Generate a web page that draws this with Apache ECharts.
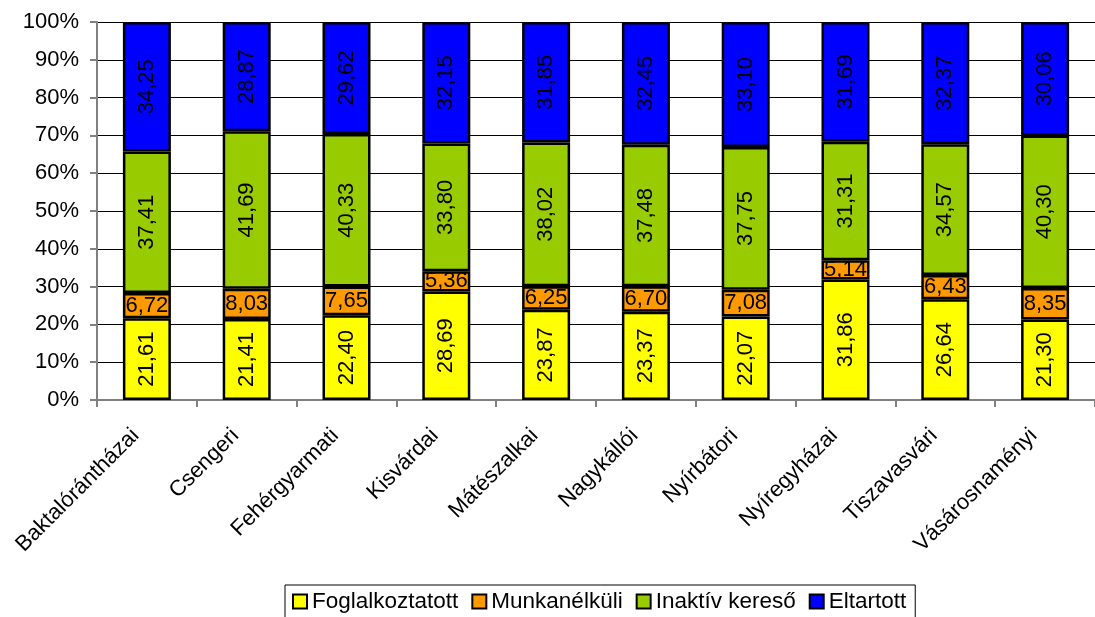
<!DOCTYPE html>
<html><head><meta charset="utf-8">
<script src="https://cdn.jsdelivr.net/npm/echarts@6/dist/echarts.min.js"></script>
<style>html,body{margin:0;padding:0;background:#fff}#c{width:1095px;height:617px}</style>
</head><body><div id="c"></div>
<script>
const categories = ['Baktalórántházai','Csengeri','Fehérgyarmati','Kisvárdai','Mátészalkai','Nagykállói','Nyírbátori','Nyíregyházai','Tiszavasvári','Vásárosnaményi'];
const foglalkoztatott = [21.61,21.41,22.40,28.69,23.87,23.37,22.07,31.86,26.64,21.30];
const munkanelkuli = [6.72,8.03,7.65,5.36,6.25,6.70,7.08,5.14,6.43,8.35];
const inaktiv = [37.41,41.69,40.33,33.80,38.02,37.48,37.75,31.31,34.57,40.30];
const eltartott = [34.25,28.87,29.62,32.15,31.85,32.45,33.10,31.69,32.37,30.06];
const seriesNames = ['Foglalkoztatott','Munkanélküli','Inaktív kereső','Eltartott'];
const colors = ['#FFFF00','#FF9900','#99CC00','#0000FF'];
const font = 'Liberation Sans, Arial, sans-serif';
const fmt = p => p.value.toFixed(2).replace('.', ',');
function mk(name, data, color, rot) {
  return {
    name, type: 'bar', stack: 't', data, barWidth: 48,
    itemStyle: { color, borderColor: '#000', borderWidth: 2.5 },
    label: { show: true, position: 'inside', rotate: rot, formatter: fmt, color: '#000', fontSize: 22, fontFamily: font },
    emphasis: { disabled: true }
  };
}
const chart = echarts.init(document.getElementById('c'));
chart.setOption({
  animation: false,
  grid: { left: 97, right: -13, top: 22, bottom: 217 },
  xAxis: {
    type: 'category', data: categories,
    axisLine: { lineStyle: { color: '#808080', width: 2 } },
    axisTick: { show: true, length: 7, lineStyle: { color: '#808080', width: 2 } },
    axisLabel: { rotate: 45, fontSize: 22, fontFamily: font, color: '#000', margin: 21, padding: [0, 16, 0, 0], interval: 0 }
  },
  yAxis: {
    type: 'value', min: 0, max: 100, interval: 10,
    axisLine: { show: true, lineStyle: { color: '#808080', width: 2 } },
    axisTick: { show: true, length: 7, lineStyle: { color: '#808080', width: 2 } },
    axisLabel: { formatter: '{value}%', fontSize: 22, fontFamily: font, color: '#000', margin: 18 },
    splitLine: { lineStyle: { color: '#000', width: 1 } }
  },
  legend: {
    data: seriesNames, top: 585, left: 285,
    itemWidth: 14, itemHeight: 14, itemGap: 13,
    borderColor: '#000', borderWidth: 1, padding: [5, 9, 5, 7],
    icon: 'rect',
    itemStyle: { borderColor: '#000', borderWidth: 2 },
    textStyle: { fontSize: 22.5, fontFamily: font, color: '#000' }
  },
  series: [
    mk(seriesNames[0], foglalkoztatott, colors[0], 90),
    mk(seriesNames[1], munkanelkuli, colors[1], 0),
    mk(seriesNames[2], inaktiv, colors[2], 90),
    mk(seriesNames[3], eltartott, colors[3], 90)
  ]
});
</script></body></html>
